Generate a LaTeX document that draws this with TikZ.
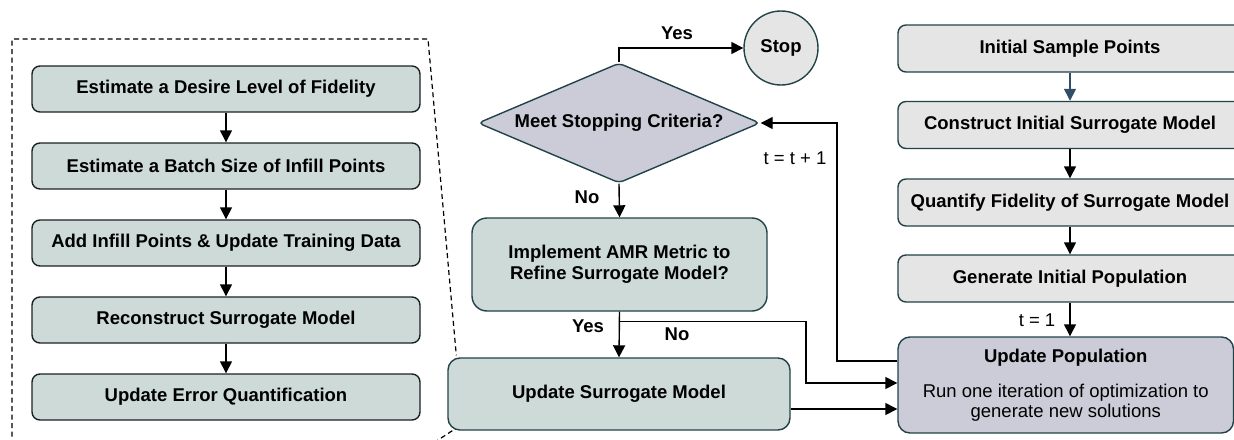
\documentclass[tikz,border=0pt]{standalone}
\usepackage{fontspec}
\setmainfont{Liberation Sans}
\usetikzlibrary{shapes.geometric,arrows.meta,calc}

\definecolor{tealfill}{RGB}{205,218,216}
\definecolor{lavfill}{RGB}{203,204,216}
\definecolor{greyfill}{RGB}{229,229,229}
\definecolor{darkteal}{RGB}{34,66,72}
\definecolor{darkline}{RGB}{28,34,36}
\definecolor{bluearrow}{RGB}{48,78,104}

\tikzset{
  lbl/.style={font=\bfseries\fontsize{18.5}{21}\selectfont, inner sep=0pt},
  plainlbl/.style={font=\fontsize{18.5}{21}\selectfont, inner sep=0pt},
  basebox/.style={rectangle, rounded corners=8pt, line width=1.4pt, inner sep=0pt,
    align=center, font=\bfseries\fontsize{18.5}{21}\selectfont},
  leftbox/.style={basebox, draw=darkline, fill=tealfill,
    minimum width=388pt, minimum height=46pt},
  greybox/.style={basebox, draw=darkteal, fill=greyfill,
    minimum width=344pt, minimum height=47pt},
  flow/.style={line width=1.4pt, -{Triangle[length=12pt,width=12pt]}},
  zoomline/.style={line width=1.2pt, dash pattern=on 5pt off 3.5pt}
}

\begin{document}
\begin{tikzpicture}[x=1pt,y=-1pt]
\useasboundingbox (0,0) rectangle (1234,439);
\clip (0,0) rectangle (1234,439);

% ---- detail column: refinement steps ----
\node[leftbox] (d1) at (226,89)  {Estimate a Desire Level of Fidelity};
\node[leftbox] (d2) at (226,166) {Estimate a Batch Size of Infill Points};
\node[leftbox] (d3) at (226,243) {Add Infill Points \& Update Training Data};
\node[leftbox] (d4) at (226,320) {Reconstruct Surrogate Model};
\node[leftbox] (d5) at (226,397) {Update Error Quantification};

\foreach \a/\b in {d1/d2,d2/d3,d3/d4,d4/d5}
  \draw[flow] (\a) -- (\b);

% ---- centre column: decision loop ----
\node[diamond, aspect=2.35, draw=darkteal, fill=lavfill, line width=1.4pt, inner sep=0pt,
      minimum width=282pt, minimum height=120pt, rounded corners=5pt,
      font=\bfseries\fontsize{18.5}{21}\selectfont] (dia) at (619,123) {Meet Stopping Criteria?};

\node[circle, draw=darkteal, fill=greyfill, line width=1.4pt, inner sep=0pt,
      minimum size=74pt, font=\bfseries\fontsize{18.5}{21}\selectfont] (stop) at (781,48) {Stop};

\node[basebox, draw=darkteal, fill=tealfill, rounded corners=15pt,
      minimum width=295pt, minimum height=93pt] (amr) at (619.5,264.5)
      {Implement AMR Metric to\\Refine Surrogate Model?};

\node[basebox, draw=darkteal, fill=tealfill, rounded corners=12pt,
      minimum width=342pt, minimum height=72pt] (usm) at (619,394) {Update Surrogate Model};

% ---- right column: initialisation ----
\node[greybox] (isp) at (1070,48.5) {Initial Sample Points};
\node[greybox] (cis) at (1070,125)  {Construct Initial Surrogate Model};
\node[greybox] (qfs) at (1070,202.5){Quantify Fidelity of Surrogate Model};
\node[greybox] (gip) at (1070,278.5){Generate Initial Population};

\node[basebox, draw=darkteal, fill=lavfill, rounded corners=12pt,
      minimum width=335.5pt, minimum height=96pt, font=\fontsize{18.5}{20.5}\selectfont]
      (up) at (1065.75,385)
      {\textbf{Update Population}\\[14.5pt]Run one iteration of optimization to\\generate new solutions};

% ---- zoom outline linking the detail column to the update step ----
\coordinate (zt) at (12,39);
\coordinate (zr) at (428,39);
\draw[zoomline] (12,445) -- (zt) -- (zr) -- ($(usm.north west)+(9,-2)$);
\draw[zoomline] ($(usm.south west)+(5,0)$) -- (432,444);

% ---- connectors ----
\coordinate (ax) at (1070,0);
\draw[flow, draw=bluearrow, fill=bluearrow] (isp.south -| ax) -- (cis.north -| ax);
\draw[flow] (cis.south -| ax) -- (qfs.north -| ax);
\draw[flow] (qfs.south -| ax) -- (gip.north -| ax);
\draw[flow] (gip.south -| ax) -- (up.north -| ax);
\node[plainlbl] (tone) at (1037,320) {t = 1};

\draw[flow] (dia.north) |- (stop.west);
\node[lbl] (yes1) at (677,33) {Yes};

\draw[flow] (dia.south) -- (amr.north);
\node[lbl] (no1) at (587,197) {No};

\draw[flow] (amr.south) -- (usm.north);
\node[lbl] (yes2) at (588,326) {Yes};

\coordinate (nob) at ($(amr.south)+(0,10)$);
\coordinate (nturn) at (806,383);
\draw[flow] (nob) -| (nturn) -- (nturn -| up.west);
\node[lbl] (no2) at (677,334) {No};

\coordinate (ue) at ($(usm.east)+(0,15)$);
\draw[flow] (ue) -- (ue -| up.west);

\coordinate (lp) at (837,361);
\draw[flow] (lp -| up.west) -- (lp) |- (dia.east);
\node[plainlbl] (tinc) at (795,158) {t = t + 1};

\end{tikzpicture}
\end{document}
